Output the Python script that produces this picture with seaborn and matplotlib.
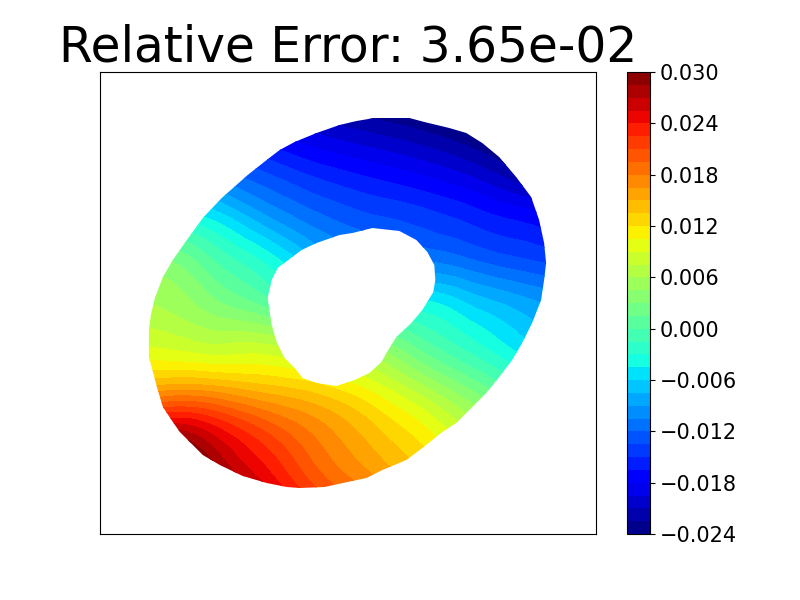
import numpy as np
import matplotlib
matplotlib.use("Agg")
import matplotlib.pyplot as plt
import matplotlib.tri as mtri
from matplotlib.path import Path
import seaborn as sns

# coarse table of the field (pixel-like coordinates, y going down)
grid_x = [140, 180, 220, 260, 300, 340, 380, 420, 460, 500, 540, 580]
grid_y = [100, 140, 180, 220, 260, 300, 340, 380, 420, 460, 500]
row_100 = [-0.0165, -0.0175, -0.0185, -0.02, -0.022, -0.0235, -0.0245, -0.0255, -0.027, -0.029, -0.031, -0.033]
row_140 = [-0.0115, -0.0130, -0.0145, -0.0165, -0.0183, -0.0195, -0.0205, -0.0215, -0.0228, -0.0245, -0.0265, -0.029]
row_180 = [-0.0075, -0.0085, -0.0105, -0.0125, -0.0142, -0.0155, -0.0165, -0.0175, -0.0187, -0.0205, -0.0225, -0.0245]
row_220 = [-0.002, -0.003, -0.005, -0.008, -0.0105, -0.0122, -0.0132, -0.014, -0.015, -0.0162, -0.0172, -0.019]
row_260 = [0.0035, 0.0025, -0.0005, -0.003, -0.0062, -0.0085, -0.0095, -0.0105, -0.0115, -0.0128, -0.0137, -0.015]
row_300 = [0.006, 0.005, 0.0028, 0.0008, -0.0015, -0.003, -0.004, -0.0045, -0.006, -0.0078, -0.0092, -0.011]
row_340 = [0.0085, 0.0078, 0.007, 0.007, 0.0055, 0.004, 0.003, 0.0003, -0.0022, -0.0045, -0.0068, -0.0095]
row_380 = [0.0135, 0.014, 0.0135, 0.0128, 0.012, 0.0105, 0.0085, 0.0055, 0.0025, -0.0003, -0.0032, -0.0062]
row_420 = [0.023, 0.0245, 0.0225, 0.0198, 0.0175, 0.0153, 0.0128, 0.0103, 0.0072, 0.004, 0.0005, -0.0025]
row_460 = [0.033, 0.032, 0.0275, 0.024, 0.0205, 0.0175, 0.0152, 0.013, 0.0105, 0.0075, 0.0045, 0.0018]
row_500 = [0.04, 0.036, 0.031, 0.0275, 0.0235, 0.0205, 0.018, 0.0155, 0.0135, 0.011, 0.008, 0.0055]

# outline of the domain
outer_x = [340, 357, 375, 410, 425, 450, 467, 483, 500, 517, 532, 540, 545, 547, 545, 542, 533, 523, 513, 500, 487, 473, 457, 443, 423, 407, 383, 367, 348, 325, 300, 287, 267, 243, 220, 203, 180, 173, 163, 157, 152, 149, 149, 151, 155, 163, 173, 187, 203, 222, 248, 267, 280, 295, 317]
outer_y = [125, 121, 118, 118, 122, 128, 133, 143, 157, 177, 197, 220, 243, 263, 280, 300, 323, 343, 360, 377, 393, 407, 423, 432, 448, 460, 470, 478, 482, 487, 488, 487, 483, 476, 465, 455, 432, 422, 407, 387, 368, 357, 330, 315, 298, 277, 260, 240, 218, 198, 175, 160, 150, 142, 133]
hole_x = [340, 353, 373, 400, 417, 428, 435, 436, 434, 423, 412, 397, 390, 382, 370, 355, 337, 317, 303, 295, 285, 277, 272, 268, 272, 278, 302, 317]
hole_y = [235, 233, 228, 231, 240, 252, 265, 280, 292, 310, 323, 337, 348, 362, 373, 380, 386, 383, 378, 368, 358, 342, 325, 298, 280, 268, 250, 243]

title = "Relative Error: 3.65e-02"

sns.set_style("white", rc={"axes.edgecolor": "black", "text.color": "black", "ytick.color": "black"})
plt.rcParams["font.family"] = ["DejaVu Sans"]

field = np.array([row_100, row_140, row_180, row_220, row_260, row_300,
                  row_340, row_380, row_420, row_460, row_500])
gx, gy = np.meshgrid(grid_x, grid_y)
tri = mtri.Triangulation(gx.ravel().astype(float), gy.ravel().astype(float))
refiner = mtri.UniformTriRefiner(tri)
fine_tri, fine_v = refiner.refine_field(field.ravel(), subdiv=3)

fig, ax = plt.subplots(figsize=(8, 6), dpi=100)
levels = np.linspace(-0.024, 0.030, 37)
cs = ax.tricontourf(fine_tri, fine_v, levels=levels, cmap=plt.get_cmap("jet"))
ax.set_xlim(100, 597)
ax.set_ylim(534, 72)
ax.set_xticks([])
ax.set_yticks([])
ax.set_title(title, fontsize=35)

# cut the field down to the ring
outer_pts = list(zip(outer_x, outer_y))
hole_pts = list(zip(hole_x, hole_y))[::-1]
verts = outer_pts + outer_pts[:1] + hole_pts + hole_pts[:1]
codes = ([Path.MOVETO] + [Path.LINETO] * (len(outer_pts) - 1) + [Path.CLOSEPOLY]
         + [Path.MOVETO] + [Path.LINETO] * (len(hole_pts) - 1) + [Path.CLOSEPOLY])
cs.set_clip_path(Path(verts, codes), transform=ax.transData)

cbar = fig.colorbar(cs, ax=ax)
cbar.ax.tick_params(labelsize=15, right=True, length=3.5, width=0.8)
for s in ax.spines.values():
    s.set_linewidth(0.8)

fig.savefig("out.png", dpi=100)
